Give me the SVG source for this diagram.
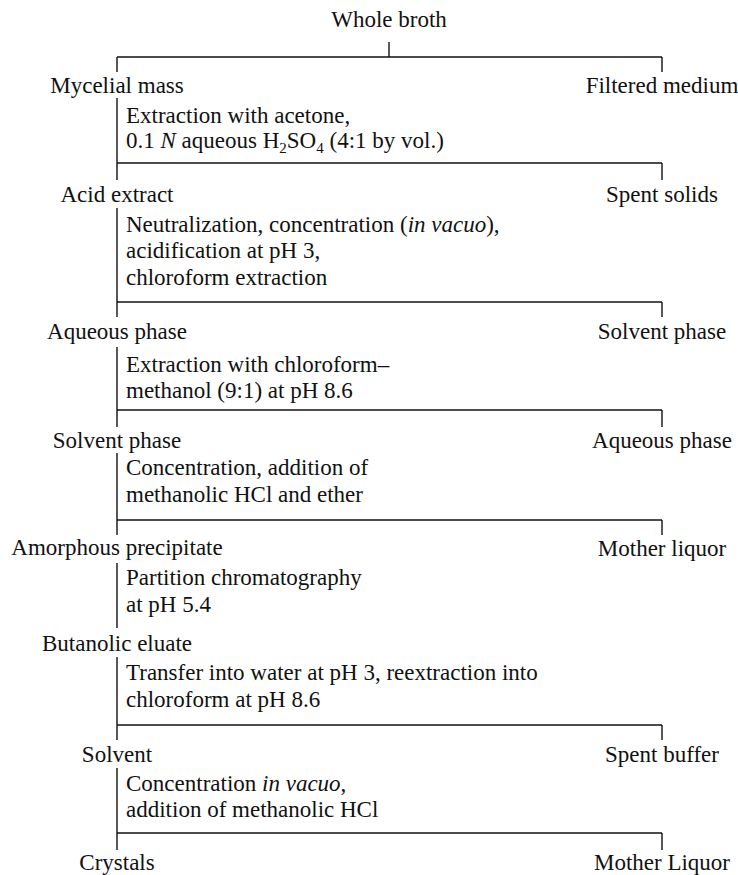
<svg xmlns="http://www.w3.org/2000/svg" width="738" height="875" viewBox="0 0 738 875">
<style>
text{font-family:"Liberation Serif","Times New Roman",serif;font-size:23px;fill:#111}
.n{text-anchor:middle}
.i{font-style:italic}
.sub{font-size:15px}
#connectors line{stroke:#111;stroke-width:1.4;fill:none}
</style>
<rect width="738" height="875" fill="#fff"/>
<g id="connectors">
<line x1="389" y1="42" x2="389" y2="57"/>
<line x1="117" y1="57" x2="662" y2="57"/>
<line x1="117" y1="57" x2="117" y2="72"/>
<line x1="662" y1="57" x2="662" y2="72"/>
<line x1="117" y1="98" x2="117" y2="163"/>
<line x1="117" y1="163" x2="662" y2="163"/>
<line x1="117" y1="163" x2="117" y2="180"/>
<line x1="662" y1="163" x2="662" y2="180"/>
<line x1="117" y1="208" x2="117" y2="302"/>
<line x1="117" y1="302" x2="662" y2="302"/>
<line x1="117" y1="302" x2="117" y2="317"/>
<line x1="662" y1="302" x2="662" y2="317"/>
<line x1="117" y1="347" x2="117" y2="410"/>
<line x1="117" y1="410" x2="662" y2="410"/>
<line x1="117" y1="410" x2="117" y2="427"/>
<line x1="662" y1="410" x2="662" y2="427"/>
<line x1="117" y1="453" x2="117" y2="520"/>
<line x1="117" y1="520" x2="662" y2="520"/>
<line x1="117" y1="520" x2="117" y2="535"/>
<line x1="662" y1="520" x2="662" y2="535"/>
<line x1="117" y1="563" x2="117" y2="628"/>
<line x1="117" y1="657" x2="117" y2="725"/>
<line x1="117" y1="725" x2="662" y2="725"/>
<line x1="117" y1="725" x2="117" y2="740"/>
<line x1="662" y1="725" x2="662" y2="740"/>
<line x1="117" y1="768" x2="117" y2="833"/>
<line x1="117" y1="833" x2="662" y2="833"/>
<line x1="117" y1="833" x2="117" y2="850"/>
<line x1="662" y1="833" x2="662" y2="850"/>
</g>
<g id="whole-broth"><text class="n" x="389" y="27">Whole broth</text></g>
<g id="mycelial-mass"><text class="n" x="117" y="93">Mycelial mass</text></g>
<g id="filtered-medium"><text class="n" x="662" y="93">Filtered medium</text></g>
<g id="step1">
<text x="126" y="123">Extraction with acetone,</text>
<text x="126" y="148">0.1 <tspan class="i">N</tspan> aqueous H<tspan class="sub" dy="5">2</tspan><tspan dy="-5">SO</tspan><tspan class="sub" dy="5">4</tspan><tspan dy="-5"> (4:1 by vol.)</tspan></text>
</g>
<g id="acid-extract"><text class="n" x="117" y="202">Acid extract</text></g>
<g id="spent-solids"><text class="n" x="662" y="202">Spent solids</text></g>
<g id="step2">
<text x="126" y="232">Neutralization, concentration (<tspan class="i">in vacuo</tspan>),</text>
<text x="126" y="258">acidification at pH 3,</text>
<text x="126" y="285">chloroform extraction</text>
</g>
<g id="aqueous-phase-1"><text class="n" x="117" y="339">Aqueous phase</text></g>
<g id="solvent-phase-1"><text class="n" x="662" y="339">Solvent phase</text></g>
<g id="step3">
<text x="126" y="372">Extraction with chloroform–</text>
<text x="126" y="398">methanol (9:1) at pH 8.6</text>
</g>
<g id="solvent-phase-2"><text class="n" x="117" y="448">Solvent phase</text></g>
<g id="aqueous-phase-2"><text class="n" x="662" y="448">Aqueous phase</text></g>
<g id="step4">
<text x="126" y="475">Concentration, addition of</text>
<text x="126" y="502">methanolic HCl and ether</text>
</g>
<g id="amorphous-precipitate"><text class="n" x="117" y="555">Amorphous precipitate</text></g>
<g id="mother-liquor-1"><text class="n" x="662" y="556">Mother liquor</text></g>
<g id="step5">
<text x="126" y="585">Partition chromatography</text>
<text x="126" y="612">at pH 5.4</text>
</g>
<g id="butanolic-eluate"><text class="n" x="117" y="651">Butanolic eluate</text></g>
<g id="step6">
<text x="126" y="680">Transfer into water at pH 3, reextraction into</text>
<text x="126" y="707">chloroform at pH 8.6</text>
</g>
<g id="solvent"><text class="n" x="117" y="762">Solvent</text></g>
<g id="spent-buffer"><text class="n" x="662" y="762">Spent buffer</text></g>
<g id="step7">
<text x="126" y="791">Concentration <tspan class="i">in vacuo</tspan>,</text>
<text x="126" y="817">addition of methanolic HCl</text>
</g>
<g id="crystals"><text class="n" x="117" y="870">Crystals</text></g>
<g id="mother-liquor-2"><text class="n" x="662" y="870">Mother Liquor</text></g>
</svg>
